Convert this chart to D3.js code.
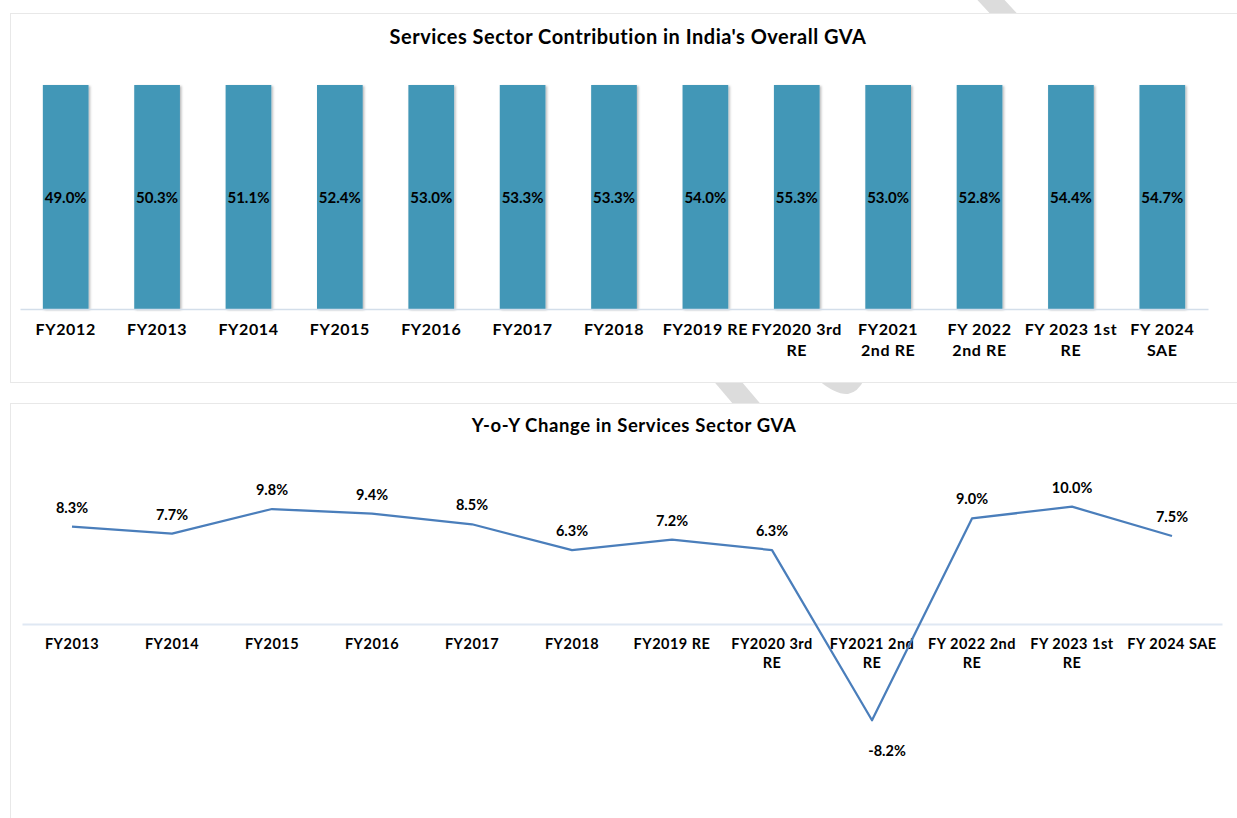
<!DOCTYPE html>
<html>
<head>
<meta charset="utf-8">
<script src="https://cdn.jsdelivr.net/npm/d3@7"></script>
<style>
  html, body { margin: 0; padding: 0; background: #fff; }
  svg { display: block; font-family: "Lato", "Open Sans", sans-serif; }
  .lbl { font-weight: 700; fill: #000; }
</style>
</head>
<body>
<svg id="chart" width="1237" height="818"></svg>
<script>
// share of services in overall GVA (%)
const shareYears = ["FY2012", "FY2013", "FY2014", "FY2015", "FY2016", "FY2017", "FY2018",
    "FY2019 RE", "FY2020 3rd RE", "FY2021 2nd RE", "FY 2022 2nd RE", "FY 2023 1st RE", "FY 2024 SAE"];
const shareValues = [49.0, 50.3, 51.1, 52.4, 53.0, 53.3, 53.3, 54.0, 55.3, 53.0, 52.8, 54.4, 54.7];
const shareTickLabels = ["FY2012", "FY2013", "FY2014", "FY2015", "FY2016", "FY2017", "FY2018",
    "FY2019 RE", "FY2020 3rd|RE", "FY2021|2nd RE", "FY 2022|2nd RE", "FY 2023 1st|RE", "FY 2024|SAE"];

// y-o-y change in services GVA (%)
const yoyYears = ["FY2013", "FY2014", "FY2015", "FY2016", "FY2017", "FY2018", "FY2019 RE",
    "FY2020 3rd RE", "FY2021 2nd RE", "FY 2022 2nd RE", "FY 2023 1st RE", "FY 2024 SAE"];
const yoyValues = [8.3, 7.7, 9.8, 9.4, 8.5, 6.3, 7.2, 6.3, -8.2, 9.0, 10.0, 7.5];
const yoyTickLabels = ["FY2013", "FY2014", "FY2015", "FY2016", "FY2017", "FY2018", "FY2019 RE",
    "FY2020 3rd|RE", "FY2021 2nd|RE", "FY 2022 2nd|RE", "FY 2023 1st|RE", "FY 2024 SAE"];

const pct = v => v.toFixed(1) + "%";

const svg = d3.select("#chart");

// faint watermark strokes sitting behind the two panels
const wm = svg.append("g").attr("fill", "#dcdcdc").attr("stroke", "#dcdcdc");
wm.append("line").
attr("x1", 991 - 0.92 * 60).attr("y1", -60).
attr("x2", 991 + 0.92 * 60).attr("y2", 60).
attr("stroke-width", 20);
wm.append("line").
attr("x1", 729 - 0.85 * 40).attr("y1", 343).
attr("x2", 729 + 0.85 * 70).attr("y2", 453).
attr("stroke-width", 21);
wm.append("path").
attr("stroke", "none").
attr("d", "M818,380 L864,380 Q858,392 848,394 Q836,395 818,380 Z");

const defs = svg.append("defs");
defs.append("filter").
attr("id", "barShadow").
attr("x", "-20%").attr("y", "-5%").attr("width", "140%").attr("height", "110%").
append("feDropShadow").
attr("dx", 1.5).attr("dy", 1).attr("stdDeviation", 0.8).
attr("flood-color", "#000").attr("flood-opacity", 0.28);

// panels
svg.append("rect").
attr("x", 10.5).attr("y", 13.5).attr("width", 1240).attr("height", 369).
attr("fill", "#fff").attr("stroke", "#e8e8e8");
svg.append("rect").
attr("x", 10.5).attr("y", 403.5).attr("width", 1240).attr("height", 430).
attr("fill", "#fff").attr("stroke", "#e8e8e8");

function splitTicks(axisG, labels, domain, firstY, lineGap) {
    axisG.selectAll(".tick text").each(function(d) {
        const t = d3.select(this);
        const lines = labels[domain.indexOf(d)].split("|");
        t.text(null).attr("y", null).attr("dy", null);
        lines.forEach((ln, i) => {
            t.append("tspan").attr("x", 0).attr("y", firstY + i * lineGap).text(ln);
        });
    });
}

// ---------- top: share of services ----------
const x1 = d3.scaleBand().domain(shareYears).range([20, 1208]).paddingInner(0.5).paddingOuter(0.25);
const y1 = d3.scaleLinear().domain([0, 1]).range([309, 85]);

const shareRows = shareYears.map((k, i) => ({ year: k, services: shareValues[i] }));
const stacked = d3.stack().keys(["services"]).offset(d3.stackOffsetExpand)(shareRows);

svg.append("text").
attr("class", "lbl").
attr("x", 628).attr("y", 44).
attr("text-anchor", "middle").
style("font-size", "20px").
style("letter-spacing", "0.5px").
text("Services Sector Contribution in India's Overall GVA");

svg.append("g").
selectAll("rect").
data(stacked[0]).
join("rect").
attr("x", d => x1(d.data.year)).
attr("y", d => y1(d[1])).
attr("width", x1.bandwidth()).
attr("height", d => y1(d[0]) - y1(d[1])).
attr("fill", "#4397b7").
attr("filter", "url(#barShadow)");

svg.append("g").
selectAll("text").
data(stacked[0]).
join("text").
attr("class", "lbl").
attr("x", d => x1(d.data.year) + x1.bandwidth() / 2).
attr("y", d => (y1(d[0]) + y1(d[1])) / 2 + 5.5).
attr("text-anchor", "middle").
style("font-size", "15px").
text(d => pct(d.data.services));

const ax1 = svg.append("g").
attr("transform", "translate(0,309)").
call(d3.axisBottom(x1).tickSize(0).tickSizeOuter(0));
ax1.attr("font-family", null).attr("font-size", null);
ax1.select(".domain").attr("stroke", "#d3deea").attr("stroke-width", 1.5);
ax1.selectAll(".tick text").attr("class", "lbl").
style("font-size", "16px").style("letter-spacing", "0.6px");
splitTicks(ax1, shareTickLabels, shareYears, 26, 21);

// ---------- bottom: y-o-y change ----------
const x2 = d3.scaleBand().domain(yoyYears).range([22, 1222]);
const y2 = d3.scaleLinear().domain([-15, 15]).range([800, 448]);

svg.append("text").
attr("class", "lbl").
attr("x", 634).attr("y", 432).
attr("text-anchor", "middle").
style("font-size", "18.5px").
style("letter-spacing", "0.6px").
text("Y-o-Y Change in Services Sector GVA");

const ax2 = svg.append("g").
attr("transform", `translate(0,${y2(0)})`).
call(d3.axisBottom(x2).tickSize(0).tickSizeOuter(0));
ax2.attr("font-family", null).attr("font-size", null);
ax2.select(".domain").attr("stroke", "#dfe8f3").attr("stroke-width", 2);
ax2.selectAll(".tick text").attr("class", "lbl").
style("font-size", "14.5px").style("letter-spacing", "0.5px");
splitTicks(ax2, yoyTickLabels, yoyYears, 25, 19);

const line = d3.line().
x((d, i) => x2(yoyYears[i]) + x2.bandwidth() / 2).
y(d => y2(d));

svg.append("path").
datum(yoyValues).
attr("fill", "none").
attr("stroke", "#4a7ebb").
attr("stroke-width", 2.25).
attr("stroke-linejoin", "round").
attr("d", line);

svg.append("g").
selectAll("text").
data(yoyValues).
join("text").
attr("class", "lbl").
attr("x", (d, i) => x2(yoyYears[i]) + x2.bandwidth() / 2 + (d < 0 ? 15 : 0)).
attr("y", d => d < 0 ? y2(d) + 36 : y2(d) - 14).
attr("text-anchor", "middle").
style("font-size", "14.5px").
text(d => pct(d));
</script>
</body>
</html>
